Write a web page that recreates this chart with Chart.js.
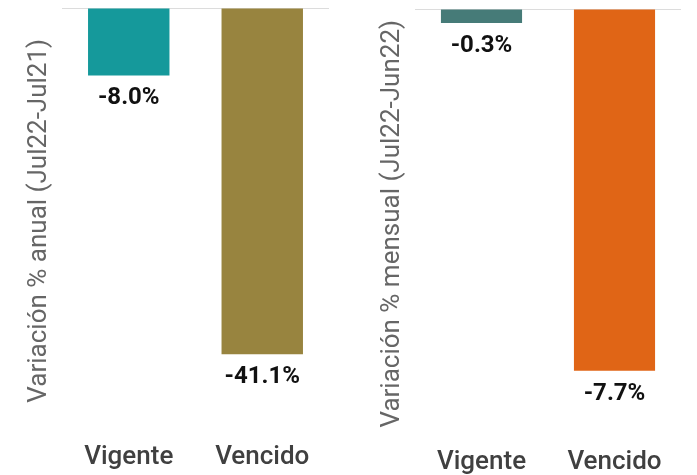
<!DOCTYPE html>
<html>
<head>
<meta charset="utf-8">
<script src="https://cdn.jsdelivr.net/npm/chart.js@4.4.1/dist/chart.umd.min.js"></script>
<style>
  html, body { margin: 0; padding: 0; background: #fff; }
  .wrap { display: flex; width: 697px; height: 475px; }
  canvas { display: block; }
</style>
</head>
<body>
<div class="wrap">
  <canvas id="anual" width="348" height="475"></canvas>
  <canvas id="mensual" width="349" height="475"></canvas>
</div>
<script>
// data
const categories = ['Vigente', 'Vencido'];
const anualValues = [-8.0, -41.1];
const mensualValues = [-0.3, -7.7];
const anualLabels = ['-8.0%', '-41.1%'];
const mensualLabels = ['-0.3%', '-7.7%'];
const anualTitle = 'Variación % anual (Jul22-Jul21)';
const mensualTitle = 'Variación % mensual (Jul22-Jun22)';
const anualMin = -50.5;
const mensualMin = -9.14;

const anualColors = ['#15999b', '#98843f'];
const mensualColors = ['#467b78', '#e06516'];

// draws the % text under each bar end
const valueLabels = {
  id: 'valueLabels',
  afterDatasetsDraw(chart, args, opts){
    const ctx = chart.ctx;
    const meta = chart.getDatasetMeta(0);
    ctx.save();
    ctx.font = 'bold 24px Roboto';
    ctx.fillStyle = '#111';
    ctx.textAlign = 'center';
    ctx.textBaseline = 'middle';
    meta.data.forEach((bar, i) => {
      ctx.fillText(opts.labels[i], bar.x, bar.y + 23);
    });
    ctx.restore();
  }
};

function makeBarChart(canvasId, values, colors, labels, title, yMin, cfg){
  const ctx = document.getElementById(canvasId).getContext('2d');
  return new Chart(ctx, {
    type: 'bar',
    data: {
      labels: categories,
      datasets: [{
        data: values,
        backgroundColor: colors,
        borderWidth: 0,
        categoryPercentage: 1,
        barPercentage: 0.61
      }]
    },
    options: {
      responsive: false,
      animation: false,
      layout: { padding: { top: cfg.top, right: cfg.right, bottom: 0, left: 0 } },
      plugins: {
        legend: { display: false },
        tooltip: { enabled: false },
        valueLabels: { labels }
      },
      scales: {
        x: {
          afterFit: (scale) => { scale.height = cfg.xHeight; },
          grid: { display: false },
          border: { display: false },
          ticks: { color: '#404040', padding: 0, font: { family: 'Roboto', size: 26, weight: 500 } }
        },
        y: {
          min: yMin,
          max: 0,
          afterFit: (scale) => { scale.width = cfg.axisWidth; },
          border: { display: false },
          grid: {
            drawTicks: false,
            color: (c) => (c.tick && c.tick.value === 0) ? '#dcdcdc' : 'rgba(0,0,0,0)'
          },
          ticks: { display: false },
          title: {
            display: true,
            text: title,
            color: '#666',
            padding: { top: cfg.titlePad, bottom: 0 },
            font: { family: 'Roboto', size: 26 }
          }
        }
      }
    },
    plugins: [valueLabels]
  });
}

makeBarChart('anual', anualValues, anualColors, anualLabels, anualTitle, anualMin,
  { top: 8, right: 19, xHeight: 41.5, axisWidth: 62, titlePad: 24 });
makeBarChart('mensual', mensualValues, mensualColors, mensualLabels, mensualTitle, mensualMin,
  { top: 9, right: 16, xHeight: 36.5, axisWidth: 67, titlePad: 29 });
</script>
</body>
</html>
